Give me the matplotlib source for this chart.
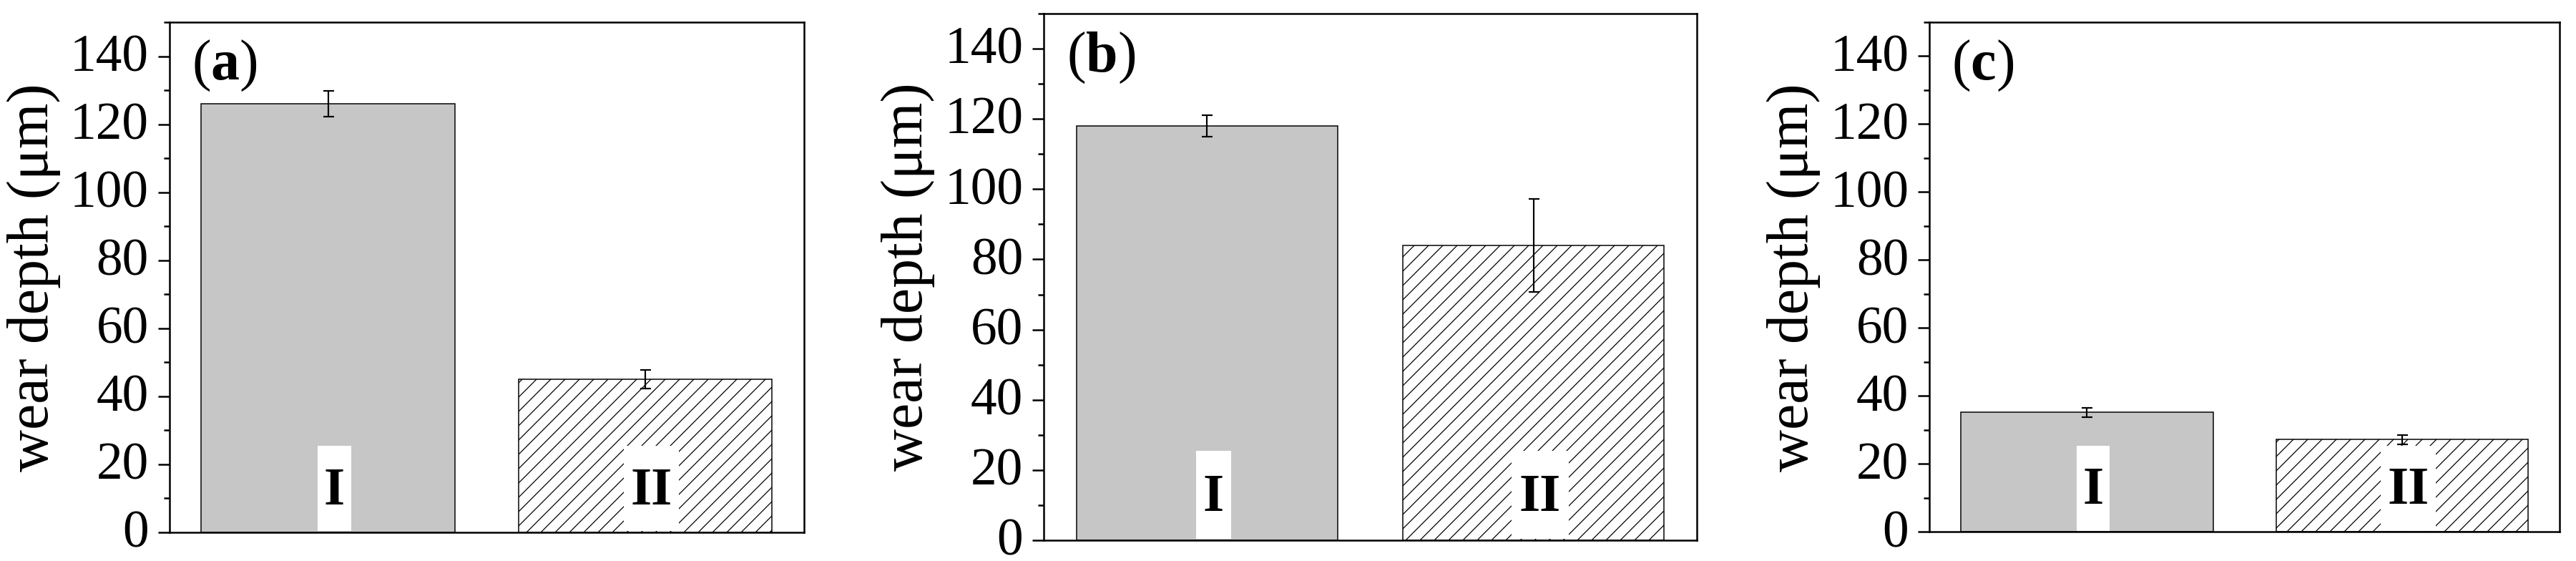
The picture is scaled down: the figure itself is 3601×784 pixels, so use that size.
import numpy as np
import matplotlib
matplotlib.use('Agg')
import matplotlib.pyplot as plt
import matplotlib.transforms as mtransforms
from matplotlib.ticker import MultipleLocator

plt.rcParams['font.family'] = ['Liberation Serif', 'DejaVu Serif']
plt.rcParams['mathtext.fontset'] = 'custom'
plt.rcParams['mathtext.rm'] = 'Liberation Serif'
plt.rcParams['mathtext.bf'] = 'Liberation Serif:bold'
plt.rcParams['hatch.linewidth'] = 0.75

# wear depth (um) for samples I and II in the three tests
groups = ['I', 'II']
panels = ['a', 'b', 'c']
depth_a = [126, 45]
err_a = [3.8, 2.8]
depth_b = [118, 84]
err_b = [3.0, 13.2]
depth_c = [35.2, 27.2]
err_c = [1.4, 1.4]

depths = [depth_a, depth_b, depth_c]
errs = [err_a, err_b, err_c]

# axes boxes in figure fraction
boxes = [
    [0.0658, 0.0510, 0.2462, 0.9095],
    [0.4052, 0.0370, 0.2535, 0.9388],
    [0.7490, 0.0517, 0.2446, 0.9088],
]

DPI = 120
fig = plt.figure(figsize=(3601 / DPI, 784 / DPI), dpi=DPI)

x = np.arange(1, len(groups) + 1)
box_w = [0.106, 0.174]
box_h = 25

# tick labels sit a little above their ticks in the original
lift = mtransforms.ScaledTranslation(0, 5 / DPI, fig.dpi_scale_trans)

for i in range(3):
    ax = fig.add_axes(boxes[i])
    bars = ax.bar(x, depths[i], width=0.8, color=['#c6c6c6', 'white'],
                  edgecolor='black', linewidth=0.9, zorder=2)
    bars[1].set_hatch('//')
    ax.errorbar(x, depths[i], yerr=errs[i], fmt='none', ecolor='black',
                elinewidth=1.3, capsize=4.5, capthick=1.3, zorder=4)

    # white patch behind the group label
    ax.bar(x + 0.02, [box_h, box_h], width=box_w, bottom=0.4,
           color='white', linewidth=0, zorder=3)
    for xi, g in zip(x, groups):
        ax.text(xi + 0.02, 12, g, ha='center', va='center',
                fontsize=45, fontweight='bold', zorder=5)

    ax.text(0.035, 0.968, '(' + r'$\mathbf{%s}$' % panels[i] + ')',
            transform=ax.transAxes, ha='left', va='top', fontsize=48)

    ax.set_xlim(0.5, 2.5)
    ax.set_ylim(0, 150)
    ax.yaxis.set_minor_locator(MultipleLocator(10))
    ax.set_yticks(np.arange(0, 141, 20))
    ax.set_xticks([])
    ax.tick_params(axis='y', which='major', direction='out', length=9.4,
                   width=1.5, pad=8, labelsize=44)
    ax.tick_params(axis='y', which='minor', direction='out', length=5,
                   width=1.5)
    for lab in ax.get_yticklabels():
        lab.set_transform(lab.get_transform() + lift)
    for sp in ax.spines.values():
        sp.set_linewidth(1.5)
    ax.set_ylabel('wear depth (μm)', fontsize=49, labelpad=8)

fig.savefig('out.png', dpi=DPI)
